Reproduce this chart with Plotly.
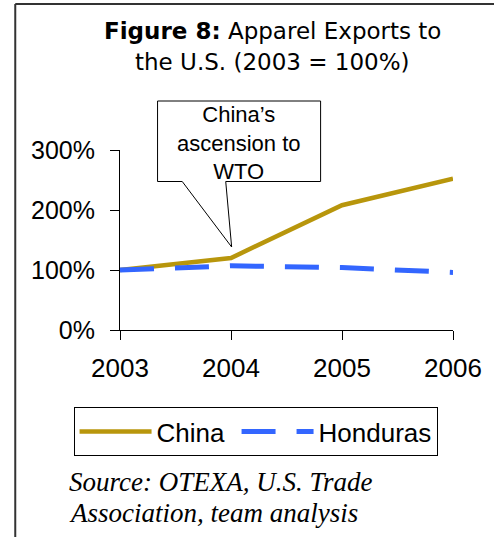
import plotly.graph_objects as go

years = [2003, 2004, 2005, 2006]
china = [100, 120, 208, 252]
honduras = [100, 107, 104, 96]
y_ticks = [0, 100, 200, 300]
y_tick_labels = ["0%", "100%", "200%", "300%"]

W, H = 494, 537
L, R, T, B = 120, 37, 150, 207
pw, ph = W - L - R, H - T - B


# pixel -> paper helpers for the decorations
def px(x):
    return (x - L) / pw


def py(y):
    return (H - B - y) / ph


fig = go.Figure()
fig.add_trace(go.Scatter(
    x=years, y=china, name="China", mode="lines", legendwidth=75,
    line=dict(color="#B8960C", width=4.5)
))
fig.add_trace(go.Scatter(
    x=years, y=honduras, name="Honduras", mode="lines",
    line=dict(color="#3366FF", width=5, dash="34px,21px")
))

# callout box with a wedge pointing at 2004
box = [(158, 101), (323, 101), (323, 181.5), (227, 181.5), (233, 247),
       (183, 181.5), (158, 181.5)]
path = "M " + " L ".join(f"{px(a):.4f},{py(b):.4f}" for a, b in box) + " Z"

shapes = [
    dict(type="path", xref="paper", yref="paper", path=path,
         line=dict(color="black", width=1), fillcolor="white", layer="above"),
    # outer frame: left and top edges
    dict(type="line", xref="paper", yref="paper", x0=px(14), x1=px(14),
         y0=py(4), y1=py(H + 5), line=dict(color="#333", width=2)),
    dict(type="line", xref="paper", yref="paper", x0=px(14), x1=px(W + 5),
         y0=py(4), y1=py(4), line=dict(color="#333", width=2)),
]


def label(text, x, y, family, size, xanchor="center"):
    return dict(xref="paper", yref="paper", x=px(x), y=py(y),
                xanchor=xanchor, yanchor="middle", showarrow=False,
                text=text, font=dict(family=family, size=size, color="black"))


title_font = "DejaVu Sans"
src_font = "Liberation Serif"
annotations = [
    label("<b>Figure 8:</b> Apparel Exports to", 274, 31, title_font, 23),
    label("the U.S. (2003 = 100%)", 274, 62, title_font, 23),
    label("China’s<br>ascension to<br>WTO", 240, 143, "Liberation Sans", 22),
    label("<i>Source: OTEXA, U.S. Trade</i>", 66, 482, src_font, 27, "left"),
    label("<i>Association, team analysis</i>", 66, 513, src_font, 27, "left"),
]

fig.update_layout(
    width=W, height=H,
    margin=dict(l=L, r=R, t=T, b=B),
    paper_bgcolor="white", plot_bgcolor="white",
    shapes=shapes,
    annotations=annotations,
    showlegend=True,
    legend=dict(
        orientation="h", x=px(73), xanchor="left", y=py(407), yanchor="top",
        bordercolor="black", borderwidth=1, itemwidth=72,
        font=dict(family="Liberation Sans", size=26, color="black")
    ),
    xaxis=dict(
        range=[2003, 2006], tickvals=years, showgrid=False, zeroline=False,
        showline=True, linecolor="black", linewidth=1,
        ticks="outside", ticklen=9, tickcolor="black", ticklabelstandoff=6,
        tickfont=dict(family="Liberation Sans", size=26, color="black")
    ),
    yaxis=dict(
        range=[0, 300], tickvals=y_ticks, ticktext=y_tick_labels,
        showgrid=False, zeroline=False,
        showline=True, linecolor="black", linewidth=1,
        ticks="outside", ticklen=9, tickcolor="black", ticklabelstandoff=10,
        tickfont=dict(family="Liberation Sans", size=25, color="black")
    ),
)

fig.write_html("out.html", config={"displayModeBar": False},
               post_script="document.body.style.margin='0';"
                           "document.body.style.overflow='hidden';")
